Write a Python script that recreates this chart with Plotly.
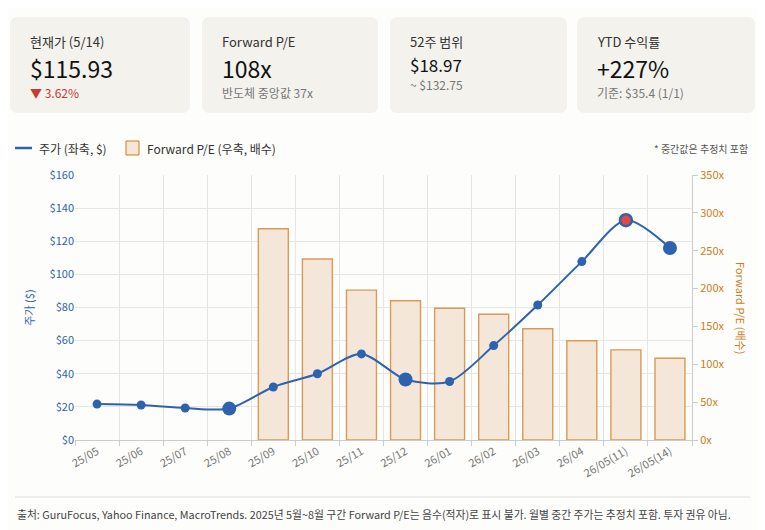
import plotly.graph_objects as go

months = ["25/05","25/06","25/07","25/08","25/09","25/10","25/11","25/12","26/01","26/02","26/03","26/04","26/05(11)","26/05(14)"]
price = [21.7, 21.1, 19.3, 18.97, 32.0, 40.0, 52.0, 36.5, 35.3, 57.0, 81.5, 107.7, 132.75, 115.93]
pe = [None, None, None, None, 279, 239, 198, 184, 174, 166, 147, 131, 119, 108]
big_idx = [3, 7, 13]
peak_idx = 12

F = "Noto Sans CJK KR"
BLUE = "#2f62ae"
ORANGE = "#c8801e"
OFF = 8
W, H = 765 - OFF, 530 - OFF
L, R, T, B = 75, 692, 175, 440
x = list(range(len(months)))

fig = go.Figure()
fig.add_trace(go.Bar(x=x, y=pe, yaxis="y", marker=dict(color="#f4e7da", line=dict(color="#d99a55", width=1.4)),
                     width=0.68, showlegend=False, hoverinfo="skip"))
sizes = [9]*len(x)
for i in big_idx: sizes[i] = 14
colors = [BLUE]*len(x)
colors[peak_idx] = "#e04848"
lw = [0]*len(x); lw[peak_idx] = 2.5
sizes[peak_idx] = 12
fig.add_trace(go.Scatter(x=x, y=price, yaxis="y2", mode="lines+markers",
                         line=dict(color=BLUE, width=2, shape="spline", smoothing=0.8),
                         marker=dict(size=sizes, color=colors, opacity=1, line=dict(color=BLUE, width=lw)),
                         showlegend=False, cliponaxis=False))

def px(xp): return (xp - L) / (R - L)
def py(yp): return (B - yp) / (B - T)

def rrect(x0, x1, y0, y1, r=8):
    rx = r / (R - L); ry = r / (B - T)
    a, b, c, d = px(x0), px(x1), py(y1), py(y0)
    return (f"M{a+rx},{d} L{b-rx},{d} Q{b},{d} {b},{d-ry} L{b},{c+ry} Q{b},{c} {b-rx},{c} "
            f"L{a+rx},{c} Q{a},{c} {a},{c+ry} L{a},{d-ry} Q{a},{d} {a+rx},{d} Z")

shapes, ann = [], []
cards = [(10,190,"현재가 (5/14)","$115.93","▼ 3.62%","#c83a32"),
         (202,378,"Forward P/E","108x","반도체 중앙값 37x","#777"),
         (390,567,"52주 범위","$18.97","~ $132.75","#777"),
         (577,755,"YTD 수익률","+227%","기준: $35.4 (1/1)","#777")]
for i,(a,b,t,v,s,sc) in enumerate(cards):
    shapes.append(dict(type="path", xref="paper", yref="paper", path=rrect(a, b, 17, 113),
                       fillcolor="#f3f2ed", line=dict(width=0), layer="below"))
    ann.append(dict(x=px(a+18), y=py(42), text=t, font=dict(size=13, color="#333", family=F)))
    if i == 2:
        ann.append(dict(x=px(a+18), y=py(64), text=v, font=dict(size=17, color="#111", family=F)))
        ann.append(dict(x=px(a+18), y=py(84), text=s, font=dict(size=12, color=sc, family=F)))
    else:
        ann.append(dict(x=px(a+18), y=py(68), text=v, font=dict(size=23, color="#111", family=F)))
        ann.append(dict(x=px(a+18), y=py(92), text=s, font=dict(size=12, color=sc, family=F)))
for a_ in ann:
    a_.update(xref="paper", yref="paper", xanchor="left", yanchor="middle", showarrow=False)

shapes.append(dict(type="line", xref="paper", yref="paper", x0=px(15), x1=px(32), y0=py(148), y1=py(148),
                   line=dict(color=BLUE, width=2.5)))
shapes.append(dict(type="rect", xref="paper", yref="paper", x0=px(126), x1=px(139), y0=py(155), y1=py(141),
                   fillcolor="#f4e7da", line=dict(color="#c8801e", width=1)))
extra = [(px(37), py(148), "주가 (좌축, $)", "left", 12, "#333", 0),
         (px(145), py(148), "Forward P/E (우축, 배수)", "left", 12, "#333", 0),
         (px(750), py(148), "* 중간값은 추정치 포함", "right", 10, "#555", 0),
         (px(15), py(514), "출처: GuruFocus, Yahoo Finance, MacroTrends. 2025년 5월~8월 구간 Forward P/E는 음수(적자)로 표시 불가. 월별 중간 주가는 추정치 포함. 투자 권유 아님.", "left", 10.8, "#444", 0),
         (px(741), py(308), "Forward P/E (배수)", "center", 11, ORANGE, 90)]
for xx, yy, t, anc, sz, c, ang in extra:
    ann.append(dict(xref="paper", yref="paper", x=xx, y=yy, text=t, xanchor=anc, yanchor="middle", showarrow=False,
                    textangle=ang, font=dict(size=sz, color=c, family=F)))
shapes.append(dict(type="line", xref="paper", yref="paper", x0=px(15), x1=px(750), y0=py(497), y1=py(497),
                   line=dict(color="#ddd", width=1)))

fig.update_layout(
    width=W, height=H, paper_bgcolor="#fdfdfb", plot_bgcolor="#fdfdfb",
    margin=dict(l=L-OFF, r=W-(R-OFF), t=T-OFF, b=H-(B-OFF), autoexpand=False),
    font=dict(family=F),
    shapes=shapes, annotations=ann,
    xaxis=dict(tickmode="array", tickvals=x, ticktext=months, tickangle=-30, range=[-0.5, len(x)-0.5],
               showgrid=False, tickfont=dict(size=11, color="#777"), showline=True, linecolor="#ccc",
               minor=dict(tickmode="array", tickvals=[i-0.5 for i in range(len(x)+1)], showgrid=True,
                          gridcolor="#e6e6e6", ticks="outside", ticklen=5, tickcolor="#ccc")),
    yaxis=dict(range=[0,350], tickmode="array", tickvals=[0,50,100,150,200,250,300,350],
               ticktext=["0x","50x","100x","150x","200x","250x","300x","350x"], side="right",
               showgrid=False, zeroline=False, showline=True, linecolor="#ccc",
               tickfont=dict(size=11, color=ORANGE), ticks="outside", ticklen=5, tickcolor="#ccc",
               minor=dict(tickmode="array", tickvals=[43.75*k for k in range(9)], showgrid=True, gridcolor="#e6e6e6")),
    yaxis2=dict(range=[0,160], dtick=20, tickprefix="$", overlaying="y", side="left", showgrid=False, zeroline=False,
                tickfont=dict(size=11, color=BLUE), title=dict(text="주가 ($)", font=dict(size=11, color=BLUE), standoff=12)),
)
fig.write_html("out.html")
